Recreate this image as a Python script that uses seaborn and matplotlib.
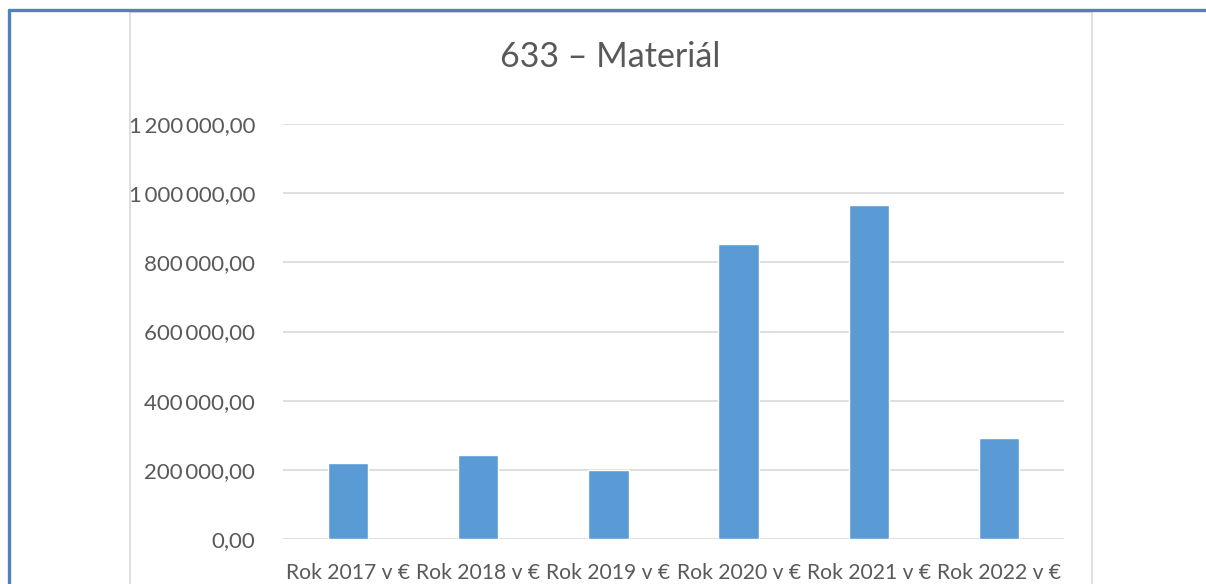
import matplotlib
matplotlib.use("Agg")
import matplotlib.pyplot as plt
from matplotlib.patches import Rectangle
from matplotlib.lines import Line2D
import seaborn as sns
import pandas as pd

# Data
categories = ["Rok 2017 v €", "Rok 2018 v €", "Rok 2019 v €",
              "Rok 2020 v €", "Rok 2021 v €", "Rok 2022 v €"]
values = [220000, 242000, 199000, 852000, 967000, 292000]
y_ticks = [0, 200000, 400000, 600000, 800000, 1000000, 1200000]
title = "633 – Materiál"

df = pd.DataFrame({"rok": categories, "suma": values})

sns.set_theme(style="white")
plt.rcParams["font.family"] = ["Lato", "DejaVu Sans"]

TEXT = "#595959"
GRID = "#d9d9d9"
BAR = "#5b9bd5"

fig = plt.figure(figsize=(12.06, 5.84), dpi=100)
W, H = 1206, 584

def fx(px):
    return px / W

def fy(py):
    return 1 - py / H

# Page frame: blue rule on top and left
fig.add_artist(Line2D([fx(9), 1.0], [fy(10), fy(10)], color="#4f81bd", lw=2.4))
fig.add_artist(Line2D([fx(9), fx(9)], [fy(10), 0.0], color="#4f81bd", lw=2.4))

# Chart area border
fig.add_artist(Rectangle((fx(130), fy(600)), fx(1092) - fx(130), fy(12) - fy(600),
                         fill=False, edgecolor=GRID, lw=1.2))

ax = fig.add_axes([fx(283), fy(539), fx(1064) - fx(283), fy(124) - fy(539)])
sns.barplot(data=df, x="rok", y="suma", color=BAR, width=0.31, ax=ax,
            saturation=1, zorder=3)

ax.set_ylim(0, 1200000)
ax.set_yticks(y_ticks)

def fmt(v):
    s = f"{v:,.2f}"
    return s.replace(",", "\u2009").replace(".", ",")

ax.set_yticklabels([fmt(v) for v in y_ticks], color=TEXT, fontsize=16)
ax.set_xticks(range(len(categories)))
ax.set_xticklabels(categories, color=TEXT, fontsize=15.2)
ax.tick_params(axis="both", length=0)
ax.tick_params(axis="y", pad=20)
ax.tick_params(axis="x", pad=17)
ax.set_xlabel("")
ax.set_ylabel("")
for s in ax.spines.values():
    s.set_visible(False)
ax.yaxis.grid(True, color=GRID, lw=1.2, zorder=0)
ax.set_axisbelow(True)
ax.set_xlim(-0.5, len(categories) - 0.5)

fig.text(fx(610), fy(57), title, ha="center", va="center", color=TEXT, fontsize=24.5)

fig.savefig("out.png", dpi=100, facecolor="white")
